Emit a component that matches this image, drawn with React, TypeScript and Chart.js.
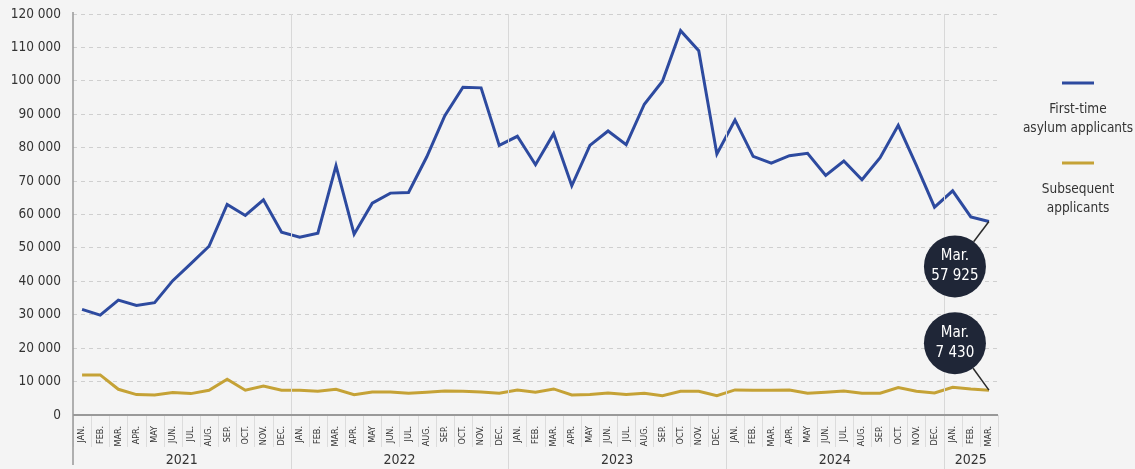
import React, { useEffect, useRef } from "react";
import { Chart, registerables } from "chart.js";

Chart.register(...registerables);

const monthLabels = ["JAN.", "FEB.", "MAR.", "APR.", "MAY", "JUN.", "JUL.", "AUG.", "SEP.", "OCT.", "NOV.", "DEC."];
const years = ["2021", "2022", "2023", "2024", "2025"];
const monthsPerYear = [12, 12, 12, 12, 3];

const firstTime = [
  31600, 29900, 34400, 32800, 33600, 40200, 45300, 50500, 63000, 59700, 64400, 54700,
  53200, 54400, 74600, 54100, 63400, 66400, 66600, 77200, 89600, 98100, 97900, 80700,
  83400, 74900, 84200, 68600, 80700, 85000, 80900, 93000, 99900, 115000, 109000, 78100,
  88300, 77400, 75400, 77600, 78300, 71700, 76000, 70400, 77000, 86700, 74700, 62200,
  67100, 59300, 57925,
];
const subsequent = [
  12000, 12000, 7700, 6100, 6000, 6700, 6400, 7400, 10700, 7400, 8700, 7400,
  7400, 7100, 7700, 6100, 6900, 6900, 6500, 6800, 7200, 7100, 6900, 6500,
  7500, 6800, 7800, 6000, 6100, 6600, 6100, 6500, 5800, 7100, 7100, 5800,
  7500, 7400, 7400, 7500, 6500, 6800, 7200, 6500, 6500, 8200, 7100, 6600,
  8300, 7800, 7430,
];
const seriesNames = ["First-time asylum applicants", "Subsequent applicants"];
const legendLines = [["First-time", "asylum applicants"], ["Subsequent", "applicants"]];
const calloutTexts = [["Mar.", "57 925"], ["Mar.", "7 430"]];

const categories: string[] = [];
monthsPerYear.forEach((n) => {
  for (let i = 0; i < n; i++) categories.push(monthLabels[i]);
});

const BLUE = "#2d4a9f";
const GOLD = "#c5a236";
const TEXT = "#333333";
const BG = "#f4f4f4";
const FONT = "'DejaVu Sans Condensed', 'Liberation Sans Narrow', 'Roboto', sans-serif";

const fmt = (v: number) => String(v).replace(/\B(?=(\d{3})+(?!\d))/g, " ");

const decorPlugin = {
  id: "decor",
  beforeDraw(chart: any) {
    const { ctx, width, height } = chart;
    ctx.save();
    ctx.fillStyle = BG;
    ctx.fillRect(0, 0, width, height);
    ctx.restore();
  },
  afterDraw(chart: any) {
    const { ctx, chartArea, height } = chart;
    const x = chart.scales.x;
    const half = (x.getPixelForValue(1) - x.getPixelForValue(0)) / 2;
    ctx.save();
    // minor month ticks
    ctx.strokeStyle = "#dcdcdc";
    ctx.lineWidth = 1;
    for (let i = 0; i <= categories.length; i++) {
      const px = Math.round(x.getPixelForValue(0) - half + i * 2 * half) + 0.5;
      ctx.beginPath();
      ctx.moveTo(px, chartArea.bottom);
      ctx.lineTo(px, chartArea.bottom + 32);
      ctx.stroke();
    }
    // year separators and labels
    let idx = 0;
    years.forEach((yr, k) => {
      const first = idx;
      const last = idx + monthsPerYear[k] - 1;
      idx += monthsPerYear[k];
      const left = Math.round(x.getPixelForValue(first) - half) + 0.5;
      if (k > 0) {
        ctx.strokeStyle = "#d8d8d8";
        ctx.lineWidth = 1;
        ctx.beginPath();
        ctx.moveTo(left, chartArea.top);
        ctx.lineTo(left, height);
        ctx.stroke();
      }
      const cx = (x.getPixelForValue(first) + x.getPixelForValue(last)) / 2;
      ctx.fillStyle = TEXT;
      ctx.font = `14px ${FONT}`;
      ctx.textAlign = "center";
      ctx.textBaseline = "middle";
      ctx.fillText(yr, cx, 460);
    });
    // left axis line
    ctx.strokeStyle = "#999999";
    ctx.lineWidth = 1.5;
    ctx.beginPath();
    ctx.moveTo(chartArea.left, chartArea.top - 2);
    ctx.lineTo(chartArea.left, height - 4);
    ctx.stroke();
    // bottom axis line
    ctx.lineWidth = 2;
    ctx.beginPath();
    ctx.moveTo(chartArea.left, chartArea.bottom);
    ctx.lineTo(chartArea.right, chartArea.bottom);
    ctx.stroke();

    // callouts
    [0, 1].forEach((di) => {
      const meta = chart.getDatasetMeta(di);
      const pt = meta.data[meta.data.length - 1];
      const dy = di === 0 ? 45 : -47;
      const cx = pt.x - 34;
      const cy = pt.y + dy;
      const r = 31;
      const ang = Math.atan2(pt.y - cy, pt.x - cx);
      ctx.strokeStyle = "#2a2a2a";
      ctx.lineWidth = 1.5;
      ctx.beginPath();
      ctx.moveTo(pt.x, pt.y);
      ctx.lineTo(cx + Math.cos(ang) * r, cy + Math.sin(ang) * r);
      ctx.stroke();
      ctx.fillStyle = "#1f2637";
      ctx.beginPath();
      ctx.arc(cx, cy, r, 0, Math.PI * 2);
      ctx.fill();
      ctx.fillStyle = "#ffffff";
      ctx.font = `15px ${FONT}`;
      ctx.textAlign = "center";
      ctx.textBaseline = "middle";
      ctx.fillText(calloutTexts[di][0], cx, cy - 10);
      ctx.fillText(calloutTexts[di][1], cx, cy + 10);
    });

    // legend
    const lx = 1078;
    const items = [
      { color: BLUE, y: 83, lines: legendLines[0] },
      { color: GOLD, y: 163, lines: legendLines[1] },
    ];
    items.forEach((it) => {
      ctx.strokeStyle = it.color;
      ctx.lineWidth = 3;
      ctx.beginPath();
      ctx.moveTo(lx - 16, it.y);
      ctx.lineTo(lx + 16, it.y);
      ctx.stroke();
      ctx.fillStyle = TEXT;
      ctx.font = `13.5px ${FONT}`;
      ctx.textAlign = "center";
      ctx.textBaseline = "middle";
      it.lines.forEach((t, j) => ctx.fillText(t, lx, it.y + 26 + j * 19));
    });
    ctx.restore();
  },
};

export default function App() {
  const ref = useRef<HTMLCanvasElement | null>(null);
  useEffect(() => {
    document.body.style.margin = "0";
    document.body.style.background = BG;
    const chart = new Chart(ref.current!, {
      type: "line",
      data: {
        labels: categories,
        datasets: [
          {
            label: seriesNames[0],
            data: firstTime,
            borderColor: BLUE,
            borderWidth: 3,
            pointRadius: 0,
            tension: 0,
          },
          {
            label: seriesNames[1],
            data: subsequent,
            borderColor: GOLD,
            borderWidth: 3,
            pointRadius: 0,
            tension: 0,
          },
        ],
      },
      options: {
        responsive: false,
        animation: false,
        layout: { padding: { top: 14, right: 137, left: 0, bottom: 0 } },
        plugins: { legend: { display: false }, tooltip: { enabled: false } },
        scales: {
          x: {
            type: "category",
            offset: true,
            grid: { display: false },
            border: { display: false },
            ticks: {
              autoSkip: false,
              maxRotation: 90,
              minRotation: 90,
              padding: 3,
              color: TEXT,
              font: { family: FONT, size: 9 },
            },
            afterFit(scale: any) {
              scale.height = 54;
              scale.paddingLeft = 0;
              scale.paddingRight = 0;
            },
          },
          y: {
            min: 0,
            max: 120000,
            grid: { color: "#cfcfcf", drawTicks: false, lineWidth: 1 },
            border: { display: false, dash: [4, 4] },
            ticks: {
              stepSize: 10000,
              padding: 12,
              color: TEXT,
              font: { family: FONT, size: 13.5 },
              callback: (v: any) => fmt(Number(v)),
            },
            afterFit(scale: any) {
              scale.width = 73;
              scale.paddingTop = 0;
              scale.paddingBottom = 0;
            },
          },
        },
      },
      plugins: [decorPlugin],
    });
    return () => chart.destroy();
  }, []);
  return (
    <div style={{ width: 1135, height: 469 }}>
      <canvas ref={ref} width={1135} height={469} style={{ display: "block" }} />
    </div>
  );
}
